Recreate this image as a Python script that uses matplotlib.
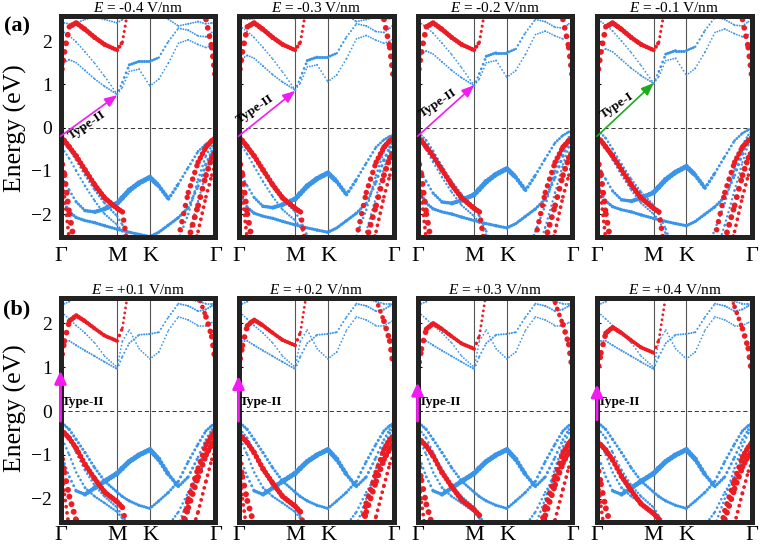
import matplotlib.pyplot as plt
import numpy as np

# Times-like serif for everything, italic E in the titles
plt.rcParams['font.family'] = ['Liberation Serif', 'DejaVu Serif']
plt.rcParams['mathtext.fontset'] = 'custom'
plt.rcParams['mathtext.it'] = 'Liberation Serif:italic'
plt.rcParams['mathtext.rm'] = 'Liberation Serif'
plt.rcParams['lines.scale_dashes'] = False

RED = '#ec1c24'
BLUE = '#3a95e8'

# k path  Γ - M - K - Γ
k_ticks = [0, 0.577, 0.91, 1.577]
k_labels = ['Γ', 'M', 'K', 'Γ']
kg = [0, 0.04, 0.09, 0.16, 0.25, 0.35, 0.45, 0.577, 0.63, 0.7,
      0.8, 0.91, 1.0, 1.1, 1.2, 1.3, 1.4, 1.48, 1.54, 1.577]

# ---------------- row (a): negative field ----------------
fields_a = ['-0.4', '-0.3', '-0.2', '-0.1']
a_blue_shift = [0.0, 0.1, 0.2, 0.25]
a_vbm = [-0.2, -0.2, -0.2, -0.2]
a_cbm = [0.75, 0.85, 0.98, 1.03]
a_type = ['Type-II', 'Type-II', 'Type-II', 'Type-I']
a_text_k = [0.27, 0.17, 0.21, 0.2]
a_text_e = [0.05, 0.42, 0.57, 0.52]

a_red_cb = [1.15, 1.75, 2.33, 2.42, 2.27, 2.08, 1.92, 1.79, 1.98, 2.9,
            3.2, 3.2, 3.2, 3.2, 3.2, 3.2, 3.0, 2.5, 1.85, 1.15]
a_red_cb_w = [1, 1, 0.95, 0.9, 0.85, 0.8, 0.75, 0.7, 0.5, 0.3,
              0.2, 0.2, 0.2, 0.2, 0.2, 0.3, 0.6, 0.9, 1, 1]
a_red_vb = [-0.24, -0.3, -0.45, -0.66, -0.98, -1.33, -1.63, -1.87, -1.95, -3.0,
            -3.2, -3.2, -3.2, -3.2, -2.55, -1.5, -0.8, -0.45, -0.3, -0.24]
a_red_v2 = [-0.65, -1.1, -2.0, -2.9, -3.2, -3.2, -3.2, -3.2, -3.2, -3.2,
            -3.2, -3.2, -3.2, -3.2, -3.2, -2.6, -1.8, -1.1, -0.7, -0.55]
a_red_v3 = [-0.9, -1.6, -2.6, -3.2, -3.2, -3.2, -3.2, -3.2, -3.2, -3.2,
            -3.2, -3.2, -3.2, -3.2, -3.2, -3.2, -2.4, -1.6, -1.1, -0.85]

a_blue_c2 = [2.25, 2.2, 2.12, 1.98, 1.75, 1.48, 1.18, 0.77, 0.93, 1.3,
             1.35, 0.96, 1.12, 1.5, 1.95, 2.03, 1.92, 1.85, 1.9, 1.95]
a_blue_c3 = [1.3, 1.5, 1.57, 1.5, 1.32, 1.12, 0.95, 0.77, 1.05, 1.45,
             1.53, 1.53, 1.62, 2.0, 2.3, 2.25, 2.12, 2.1, 2.2, 2.28]
a_blue_c3_w = [0.15, 0.15, 0.15, 0.15, 0.15, 0.15, 0.15, 0.2, 0.3, 0.4,
               0.4, 0.4, 0.3, 0.2, 0.15, 0.15, 0.15, 0.15, 0.15, 0.15]
a_blue_c4 = [2.45, 2.42, 2.4, 2.42, 2.5, 2.55, 2.5, 2.42, 2.5, 2.7,
             2.9, 2.9, 2.7, 2.5, 2.35, 2.4, 2.45, 2.4, 2.42, 2.45]
a_blue_v2 = [-0.33, -0.38, -0.5, -0.75, -1.1, -1.45, -1.75, -2.05, -2.25, -2.6,
             -3.2, -3.2, -3.2, -3.2, -2.6, -2.0, -1.2, -0.65, -0.42, -0.33]
a_blue_v3 = [-1.05, -1.25, -1.45, -1.72, -1.92, -1.95, -1.88, -1.75, -1.62, -1.45,
             -1.28, -1.15, -1.35, -1.65, -1.3, -0.92, -0.55, -0.38, -0.3, -0.27]
a_blue_v3_w = [0.3, 0.3, 0.3, 0.35, 0.45, 0.6, 0.75, 0.85, 0.9, 0.9,
               0.9, 0.9, 0.8, 0.6, 0.4, 0.35, 0.35, 0.35, 0.35, 0.35]
a_blue_v4 = [-1.55, -1.75, -1.95, -2.08, -2.15, -2.2, -2.27, -2.35, -2.38, -2.42,
             -2.47, -2.52, -2.42, -2.25, -2.08, -1.85, -1.35, -0.85, -0.55, -0.42]
a_blue_v5 = [-0.45, -0.55, -0.72, -1.0, -1.35, -1.7, -2.0, -2.25, -2.4, -2.7,
             -3.2, -3.2, -3.2, -3.2, -3.2, -2.5, -1.7, -1.05, -0.65, -0.45]

# ---------------- row (b): positive field ----------------
fields_b = ['+0.1', '+0.2', '+0.3', '+0.4']
b_red_shift = [0.0, -0.1, -0.18, -0.27]
b_vbm = [-0.23, -0.23, -0.23, -0.2]
b_top = [0.92, 0.8, 0.65, 0.61]

b_red_cb = [1.1, 1.6, 2.05, 2.18, 2.05, 1.88, 1.72, 1.6, 1.9, 2.9,
            3.2, 3.2, 3.2, 3.2, 3.2, 3.2, 2.65, 2.15, 1.7, 1.1]
b_red_cb_w = [1, 1, 0.9, 0.8, 0.7, 0.6, 0.6, 0.6, 0.4, 0.3,
              0.2, 0.2, 0.2, 0.2, 0.2, 0.3, 0.6, 0.9, 1, 1]
b_red_vb = [-0.45, -0.5, -0.62, -0.85, -1.22, -1.55, -1.85, -2.07, -2.2, -2.9,
            -3.2, -3.2, -3.2, -3.2, -3.0, -2.0, -1.3, -0.77, -0.55, -0.45]
b_red_v2 = [-0.9, -1.4, -1.95, -2.5, -3.2, -3.2, -3.2, -3.2, -3.2, -3.2,
            -3.2, -3.2, -3.2, -3.2, -3.0, -2.2, -1.5, -1.0, -0.75, -0.65]
b_red_v3 = [-1.1, -1.9, -2.7, -3.2, -3.2, -3.2, -3.2, -3.2, -3.2, -3.2,
            -3.2, -3.2, -3.2, -3.2, -3.2, -3.0, -2.3, -1.6, -1.1, -0.9]

b_blue_c2 = [2.3, 2.2, 2.1, 1.95, 1.78, 1.55, 1.25, 1.0, 1.6, 1.85,
             1.42, 1.19, 1.35, 1.85, 2.15, 2.08, 1.95, 1.95, 2.02, 2.07]
b_blue_c3 = [1.55, 1.6, 1.6, 1.5, 1.38, 1.25, 1.12, 0.96, 1.25, 1.55,
             1.74, 1.76, 1.8, 2.15, 2.45, 2.4, 2.28, 2.32, 2.4, 2.45]
b_blue_c4 = [2.45, 2.45, 2.5, 2.6, 2.7, 2.8, 2.7, 2.55, 2.6, 2.8,
             2.9, 2.9, 2.8, 2.7, 2.6, 2.55, 2.5, 2.45, 2.45, 2.45]
b_blue_v2 = [-0.28, -0.32, -0.42, -0.65, -0.95, -1.3, -1.6, -1.85, -1.95, -2.05,
             -2.15, -2.22, -2.05, -1.85, -1.6, -1.15, -0.75, -0.45, -0.33, -0.28]
b_blue_v3 = [-1.0, -1.2, -1.5, -1.82, -1.9, -1.75, -1.6, -1.42, -1.3, -1.15,
             -1.0, -0.88, -1.1, -1.45, -1.72, -1.5, -1.05, -0.65, -0.42, -0.32]
b_blue_v3_w = [0.3, 0.3, 0.35, 0.4, 0.6, 0.8, 0.85, 0.9, 0.9, 0.9,
               0.9, 0.9, 0.85, 0.7, 0.5, 0.4, 0.4, 0.35, 0.35, 0.35]
b_blue_v4 = [-0.4, -0.48, -0.62, -0.95, -1.35, -1.7, -1.95, -2.2, -2.4, -2.6,
             -3.0, -3.0, -3.0, -3.0, -2.6, -2.0, -1.3, -0.8, -0.5, -0.4]
b_blue_v5 = [-0.6, -0.75, -1.0, -1.4, -1.75, -1.95, -2.1, -2.3, -2.45, -2.6,
             -2.8, -2.9, -2.8, -2.6, -2.3, -1.85, -1.5, -1.1, -0.8, -0.6]

# ---------------- layout ----------------
W, H = 762, 549
lefts = [60.5, 238.5, 417.5, 597.0]
panel_w = 155
row_tb = [(16, 237), (298, 522)]
YMIN, YMAX = -2.53, 2.58
DK = 0.022  # k spacing of the fat-band dots

fig = plt.figure(figsize=(W / 100, H / 100), dpi=100)


def dotted_band(ax, e, w, color, pt_k, pt_e):
    e = np.asarray(e, float)
    w = np.broadcast_to(np.asarray(w, float), e.shape)
    for i in range(len(kg) - 1):
        e0, e1 = e[i], e[i + 1]
        if min(e0, e1) > YMAX + 0.1 or max(e0, e1) < YMIN - 0.1:
            continue
        dk = kg[i + 1] - kg[i]
        lw = 0.9 + 3.4 * 0.5 * (w[i] + w[i + 1])
        seg = np.hypot(dk * pt_k, (e1 - e0) * pt_e)
        gap = max(seg / (dk / DK), 0.6 * lw, 1.8)
        gap = min(gap, 1.25 * lw + 1.0)
        ax.plot(kg[i:i + 2], [e0, e1], color=color, lw=lw,
                linestyle=(0, (0.01, gap)), dash_capstyle='round')


def style_panel(ax, col, title, xpad):
    ax.set_xlim(0, 1.577)
    ax.set_ylim(YMIN, YMAX)
    for s in ax.spines.values():
        s.set_linewidth(3.6)
        s.set_color('#222222')
        s.set_zorder(8)
    ax.axhline(0, color='#333333', lw=0.7, ls=(0, (3, 2)), zorder=1)
    for kv in k_ticks[1:3]:
        ax.axvline(kv, color='#555555', lw=0.8, zorder=1)
    ax.set_xticks(k_ticks)
    ax.set_xticklabels(k_labels, fontsize=16)
    ax.tick_params(axis='x', length=0, pad=xpad)
    ax.set_yticks([-2, -1, 0, 1, 2])
    ax.tick_params(axis='y', direction='in', length=3, width=0.8,
                   labelsize=14, pad=6)
    if col > 0:
        ax.set_yticklabels([])
    ax.set_title(title, fontsize=11, pad=3)


for r, (top, bot) in enumerate(row_tb):
    for c in range(4):
        ax = fig.add_axes([lefts[c] / W, 1 - bot / H, panel_w / W, (bot - top) / H])
        pt_k = panel_w / 1.577 * 0.72
        pt_e = (bot - top) / (YMAX - YMIN) * 0.72
        if r == 0:
            sb, sr = a_blue_shift[c], 0.0
            blues = [(a_blue_c4, 0.15), (a_blue_c2, 0.12), (a_blue_c3, a_blue_c3_w),
                     (a_blue_v5, 0.25), (a_blue_v2, 0.3), (a_blue_v4, 0.45),
                     (a_blue_v3, a_blue_v3_w)]
            reds = [(a_red_v3, 0.55), (a_red_v2, 1.0), (a_red_vb, 0.9),
                    (a_red_cb, a_red_cb_w)]
            title = f'$E$ = {fields_a[c]} V/nm'
        else:
            sb, sr = 0.0, b_red_shift[c]
            blues = [(b_blue_c4, 0.15), (b_blue_c2, 0.12), (b_blue_c3, 0.18),
                     (b_blue_v5, 0.3), (b_blue_v4, 0.3), (b_blue_v2, 0.4),
                     (b_blue_v3, b_blue_v3_w)]
            reds = [(b_red_v3, 0.55), (b_red_v2, 1.0), (b_red_vb, 0.9),
                    (b_red_cb, b_red_cb_w)]
            title = f'$E$ = {fields_b[c]} V/nm'
        for e, w in blues:
            dotted_band(ax, np.asarray(e) + sb, w, BLUE, pt_k, pt_e)
        for e, w in reds:
            dotted_band(ax, np.asarray(e) + sr, w, RED, pt_k, pt_e)
        style_panel(ax, c, title, 7 if r == 0 else 3)

        if r == 0:
            col = '#1cab1c' if a_type[c] == 'Type-I' else '#f21cf2'
            ax.annotate('', xy=(0.577, a_cbm[c]), xytext=(0, a_vbm[c]),
                        arrowprops=dict(arrowstyle='-|>,head_length=0.75,head_width=0.3',
                                        color=col, lw=1.2, shrinkA=0, shrinkB=0),
                        zorder=9, annotation_clip=False)
            ax.text(a_text_k[c], a_text_e[c], a_type[c], fontsize=9.5,
                    fontweight='bold', rotation=34, ha='center', va='center',
                    zorder=9)
        else:
            ax.annotate('', xy=(0, b_top[c]), xytext=(0, b_vbm[c]),
                        arrowprops=dict(arrowstyle='-|>,head_length=0.75,head_width=0.35',
                                        color='#f21cf2', lw=2.0, shrinkA=0, shrinkB=0),
                        zorder=10, annotation_clip=False)
            ax.text(0.012, 0.2, 'Type-II', fontsize=9.5, fontweight='bold',
                    ha='left', va='center', zorder=9)

fig.text(15 / W, 1 - 128 / H, 'Energy (eV)', rotation=90, fontsize=18.5,
         ha='center', va='center')
fig.text(15 / W, 1 - 408 / H, 'Energy (eV)', rotation=90, fontsize=18.5,
         ha='center', va='center')
fig.text(17 / W, 1 - 26 / H, '(a)', fontsize=16, fontweight='bold',
         ha='center', va='center')
fig.text(17 / W, 1 - 309 / H, '(b)', fontsize=16, fontweight='bold',
         ha='center', va='center')

fig.savefig('out.png', dpi=100)
